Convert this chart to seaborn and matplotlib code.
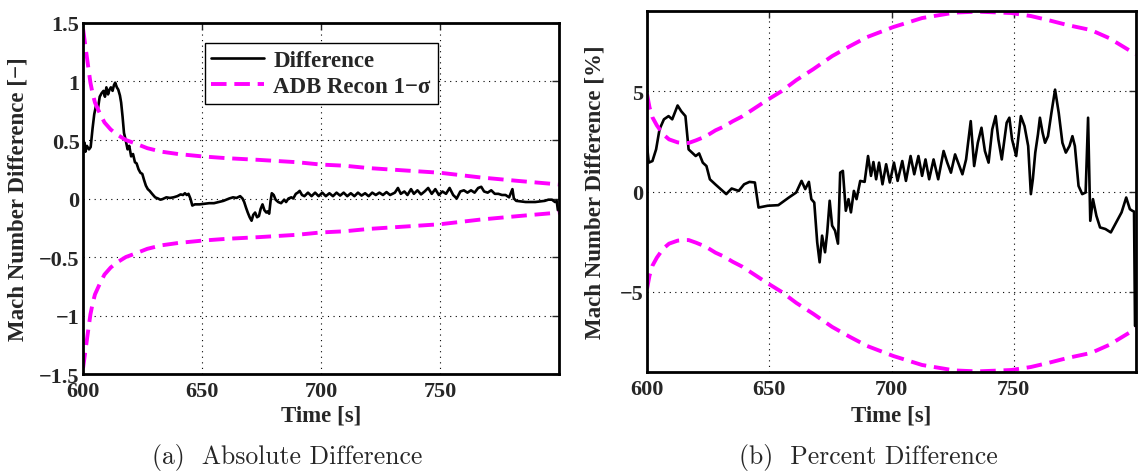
import matplotlib
matplotlib.use("Agg")
import matplotlib.pyplot as plt
import seaborn as sns

# --- data ---
abs_t = [600.0, 600.5, 601.0, 601.6, 602.5, 603.2, 604.0, 604.7, 605.4, 606.2, 607.0, 607.8,
         608.6, 609.2, 609.8, 610.5, 611.1, 611.7, 612.4, 613.0, 613.5, 614.2, 614.8, 615.5,
         616.0, 616.6, 617.2, 617.9, 618.7, 619.4, 620.2, 621.0, 621.8, 622.5, 623.3, 624.1,
         624.9, 625.6, 626.4, 627.2, 628.0, 629.0, 630.3, 631.5, 632.5, 633.4, 635.0, 636.5,
         638.0, 639.6, 641.0, 642.0, 642.8, 643.6, 644.3, 645.1, 645.9, 647.0, 649.0, 651.0,
         653.0, 655.0, 657.0, 659.0, 661.4, 663.0, 664.5, 666.0, 667.0, 667.7, 668.5, 669.2,
         670.0, 670.8, 671.5, 672.3, 673.1, 673.9, 674.6, 675.4, 676.2, 677.0, 677.6, 678.2,
         678.8, 679.3, 680.1, 680.9, 682.0, 683.2, 684.5, 685.3, 686.3, 687.5, 688.3, 689.4,
         690.2, 691.0, 692.0, 693.0, 694.5, 696.0, 697.5, 699.0, 700.5, 702.0, 703.5, 705.0,
         706.5, 708.0, 709.5, 711.0, 712.5, 714.0, 715.5, 717.0, 718.5, 720.0, 721.5, 723.0,
         724.5, 726.0, 727.5, 729.0, 731.0, 732.3, 733.5, 735.0, 736.3, 737.8, 739.0, 740.5,
         742.0, 743.5, 745.0, 746.5, 748.0, 749.5, 751.0, 752.5, 754.0, 755.5, 757.0, 758.5,
         760.0, 761.5, 763.0, 764.5, 766.0, 767.3, 768.5, 770.0, 771.5, 773.0, 774.5, 776.0,
         777.5, 779.0, 780.4, 781.0, 782.0, 784.0, 786.0, 788.0, 790.0, 792.0, 794.0, 795.5,
         797.0, 798.3, 799.0, 799.5]
abs_diff = [0.40, 0.48, 0.40, 0.45, 0.42, 0.44, 0.60, 0.72, 0.79, 0.76, 0.87, 0.90,
            0.92, 0.87, 0.95, 0.89, 0.93, 0.95, 0.92, 0.97, 0.99, 0.95, 0.93, 0.88,
            0.82, 0.70, 0.56, 0.50, 0.42, 0.45, 0.36, 0.38, 0.31, 0.30, 0.25, 0.22,
            0.21, 0.16, 0.11, 0.08, 0.065, 0.04, 0.01, 0.0, -0.01, -0.005, 0.01, 0.005,
            0.01, 0.02, 0.035, 0.03, 0.045, 0.03, 0.04, 0.0, -0.06, -0.05, -0.05, -0.045,
            -0.04, -0.04, -0.03, -0.02, 0.0, 0.01, 0.005, 0.02, 0.0, -0.03, -0.08, -0.12,
            -0.16, -0.19, -0.14, -0.12, -0.16, -0.15, -0.09, -0.05, -0.10, -0.12, -0.11, -0.13,
            -0.02, 0.045, 0.03, -0.01, -0.03, -0.04, -0.01, -0.03, 0.0, 0.01, 0.0, 0.04,
            0.05, 0.065, 0.03, 0.02, 0.05, 0.02, 0.05, 0.02, 0.05, 0.02, 0.045, 0.02,
            0.05, 0.025, 0.05, 0.02, 0.045, 0.02, 0.05, 0.025, 0.045, 0.02, 0.05, 0.03,
            0.05, 0.03, 0.055, 0.03, 0.05, 0.09, 0.04, 0.06, 0.03, 0.08, 0.04, 0.07,
            0.035, 0.06, 0.09, 0.04, 0.08, 0.03, 0.06, 0.04, 0.09, 0.03, 0.0, 0.06,
            0.07, 0.05, 0.07, 0.05, 0.09, 0.10, 0.06, 0.05, 0.07, 0.04, 0.04, 0.03,
            0.03, 0.01, 0.08, 0.0, -0.02, -0.025, -0.03, -0.03, -0.03, -0.025, -0.02, -0.01,
            -0.01, -0.03, -0.02, -0.10]

abs_sig_t = [600, 601, 602, 603.1, 604, 605, 607, 609, 611.6, 614, 618, 622, 627, 633,
             640, 650, 660, 674, 690, 700, 710, 720, 735, 750, 767, 783, 800]
abs_sig = [1.45, 1.30, 1.15, 0.99, 0.90, 0.82, 0.73, 0.65, 0.59, 0.55, 0.50, 0.47, 0.43, 0.40,
           0.38, 0.36, 0.345, 0.33, 0.31, 0.29, 0.28, 0.26, 0.24, 0.22, 0.18, 0.15, 0.12]

pct_t = [600.0, 600.7, 602.2, 603.7, 605.1, 606.9, 608.8, 610.3, 611.3, 612.5, 614.0, 615.7,
         617.0, 618.4, 619.9, 621.3, 622.8, 624.3, 625.7, 627.9, 630.1, 632.4, 634.6, 637.5,
         639.7, 641.9, 644.1, 645.6, 649.3, 653.7, 658.0, 661.0, 663.2, 664.7, 666.2, 667.2,
         668.4, 669.6, 670.6, 671.6, 672.8, 673.7, 674.7, 675.7, 676.9, 678.1, 679.0, 680.1,
         681.3, 682.4, 683.4, 684.6, 685.7, 687.2, 689.0, 690.4, 691.6, 692.6, 693.7, 694.9,
         696.3, 697.8, 699.3, 701.0, 702.5, 704.4, 705.9, 707.8, 709.3, 711.0, 712.5, 713.9,
         715.4, 717.2, 719.1, 721.3, 722.8, 724.3, 726.0, 728.0, 729.0, 730.5, 732.4, 733.8,
         735.3, 736.8, 738.2, 739.7, 741.2, 742.6, 743.7, 745.1, 747.1, 748.2, 749.3, 751.0,
         752.9, 754.4, 755.9, 757.0, 757.8, 758.8, 759.9, 760.7, 761.8, 762.8, 764.0, 765.4,
         766.9, 768.4, 769.9, 771.3, 772.8, 774.0, 775.0, 776.5, 778.0, 779.4, 780.4, 781.3,
         782.4, 783.8, 785.3, 787.5, 789.7, 791.9, 794.1, 796.0, 797.5, 798.5, 799.2, 799.6]
pct_diff = [2.27, 1.44, 1.52, 2.10, 3.10, 3.60, 3.76, 3.60, 3.92, 4.29, 4.00, 3.76,
            2.10, 1.94, 1.77, 1.90, 1.44, 1.27, 0.61, 0.36, 0.12, -0.13, 0.15, 0.03,
            0.36, 0.48, 0.45, -0.80, -0.71, -0.68, -0.30, -0.05, 0.53, 0.12, 0.48, -0.38,
            -0.55, -2.53, -3.53, -2.20, -3.03, -2.04, -0.46, -1.70, -1.95, -2.60, 0.94, 1.03,
            -0.96, -0.38, -1.04, 0.03, -0.38, 0.53, 0.48, 1.77, 0.78, 1.47, 0.61, 1.44,
            0.36, 1.36, 0.45, 1.44, 0.53, 1.52, 0.53, 1.77, 0.86, 1.77, 0.78, 1.60,
            0.61, 1.60, 0.61, 2.02, 1.44, 0.94, 1.85, 1.19, 0.86, 1.60, 3.51, 1.27,
            2.43, 3.18, 2.02, 1.44, 3.10, 3.76, 2.60, 1.60, 3.43, 3.68, 2.60, 1.77,
            3.76, 3.26, 2.27, -0.13, 0.61, 1.94, 2.85, 3.68, 2.93, 2.43, 2.76, 3.92,
            5.08, 3.92, 2.43, 1.94, 2.27, 2.76, 2.27, 0.28, -0.13, -0.05, 3.68, -1.46,
            -0.38, -1.21, -1.79, -1.87, -2.04, -1.54, -1.04, -0.30, -0.88, -0.96, -1.00, -6.70]

pct_sig_t = [600, 601, 602.2, 604, 606.6, 609, 612.5, 615, 617, 620, 624, 628, 631.6, 635,
             639, 644, 649, 655, 661, 668, 675.7, 683, 690, 700.7, 712.5, 725.7, 735, 749,
             757, 764, 772, 781.6, 789, 797.8, 800]
pct_sig = [4.85, 4.20, 3.70, 3.30, 2.85, 2.60, 2.45, 2.42, 2.42, 2.55, 2.75, 3.05, 3.25, 3.50,
           3.75, 4.15, 4.55, 5.00, 5.55, 6.10, 6.75, 7.25, 7.70, 8.20, 8.65, 8.92, 8.97, 8.90,
           8.75, 8.55, 8.30, 8.05, 7.65, 7.00, 6.85]

x_ticks = [600, 650, 700, 750]
abs_yticks = [-1.5, -1, -0.5, 0, 0.5, 1, 1.5]
abs_yticklabels = ['\u22121.5', '\u22121', '\u22120.5', '0', '0.5', '1', '1.5']
pct_yticks = [-5, 0, 5]
pct_yticklabels = ['\u22125', '0', '5']

MAGENTA = '#ff00ff'

sns.set_style("white")
plt.rcParams['font.family'] = ['Liberation Serif', 'DejaVu Serif']
plt.rcParams['font.weight'] = 'bold'

fig = plt.figure(figsize=(11.44, 4.77), dpi=100)
ax1 = fig.add_axes([0.0726, 0.2138, 0.4161, 0.7359])
ax2 = fig.add_axes([0.5656, 0.218, 0.4274, 0.7568])


def draw_panel(ax, t, diff, sig_t, sig, ylim, yticks, yticklabels, ylabel, ylab_x, xlab_y):
    sns.lineplot(x=t, y=diff, ax=ax, color='black', linewidth=1.9,
                 label='Difference', legend=False, sort=False)
    sns.lineplot(x=sig_t, y=sig, ax=ax, color=MAGENTA, linewidth=2.8,
                 linestyle=(0, (4, 2)), label='ADB Recon 1\u2212\u03c3', legend=False)
    sns.lineplot(x=sig_t, y=[-s for s in sig], ax=ax, color=MAGENTA, linewidth=2.8,
                 linestyle=(0, (4, 2)), legend=False)
    ax.set_xlim(600, 800)
    ax.set_ylim(*ylim)
    ax.set_xticks(x_ticks)
    ax.set_xticklabels([str(v) for v in x_ticks])
    ax.set_yticks(yticks)
    ax.set_yticklabels(yticklabels)
    ax.tick_params(direction='in', length=5, width=1, top=True, right=True, labelsize=16)
    ax.tick_params(axis='x', pad=5)
    ax.tick_params(axis='y', pad=2.5)
    for lbl in ax.get_xticklabels() + ax.get_yticklabels():
        lbl.set_fontweight('bold')
    ax.grid(True, color='black', linestyle=(0, (1, 4)), linewidth=0.8)
    for sp in ax.spines.values():
        sp.set_visible(True)
        sp.set_color('black')
        sp.set_linewidth(2)
    ax.set_xlabel('Time [s]', fontsize=16.5, fontweight='bold')
    ax.set_ylabel(ylabel, fontsize=16.5, fontweight='bold')
    ax.xaxis.label.set_verticalalignment('center')
    ax.yaxis.label.set_verticalalignment('center')
    ax.xaxis.set_label_coords(0.5, xlab_y)
    ax.yaxis.set_label_coords(ylab_x, 0.5)


draw_panel(ax1, abs_t, abs_diff, abs_sig_t, abs_sig, (-1.5, 1.5),
           abs_yticks, abs_yticklabels, 'Mach Number Difference [\u2212]', -0.136, -0.117)
draw_panel(ax2, pct_t, pct_diff, pct_sig_t, pct_sig, (-9, 9),
           pct_yticks, pct_yticklabels, 'Mach Number Difference [%]', -0.106, -0.119)

handles, labels = ax1.get_legend_handles_labels()
leg = ax1.legend(handles[:2], labels[:2], loc='upper center', bbox_to_anchor=(0.5, 0.975),
                 fancybox=False, framealpha=1, edgecolor='black', fontsize=16.5,
                 handlelength=2.3, borderpad=0.3, labelspacing=0.2, handletextpad=0.4)
leg.get_frame().set_linewidth(1.0)
for txt in leg.get_texts():
    txt.set_fontweight('bold')

fig.text(0.251, 1 - 458 / 477, '(a)  Absolute Difference', ha='center', va='center',
         fontsize=18.5, fontweight='normal', family=['cmr10', 'DejaVu Serif'])
fig.text(0.759, 1 - 458 / 477, '(b)  Percent Difference', ha='center', va='center',
         fontsize=18.5, fontweight='normal', family=['cmr10', 'DejaVu Serif'])

fig.savefig('out.png', dpi=100)
